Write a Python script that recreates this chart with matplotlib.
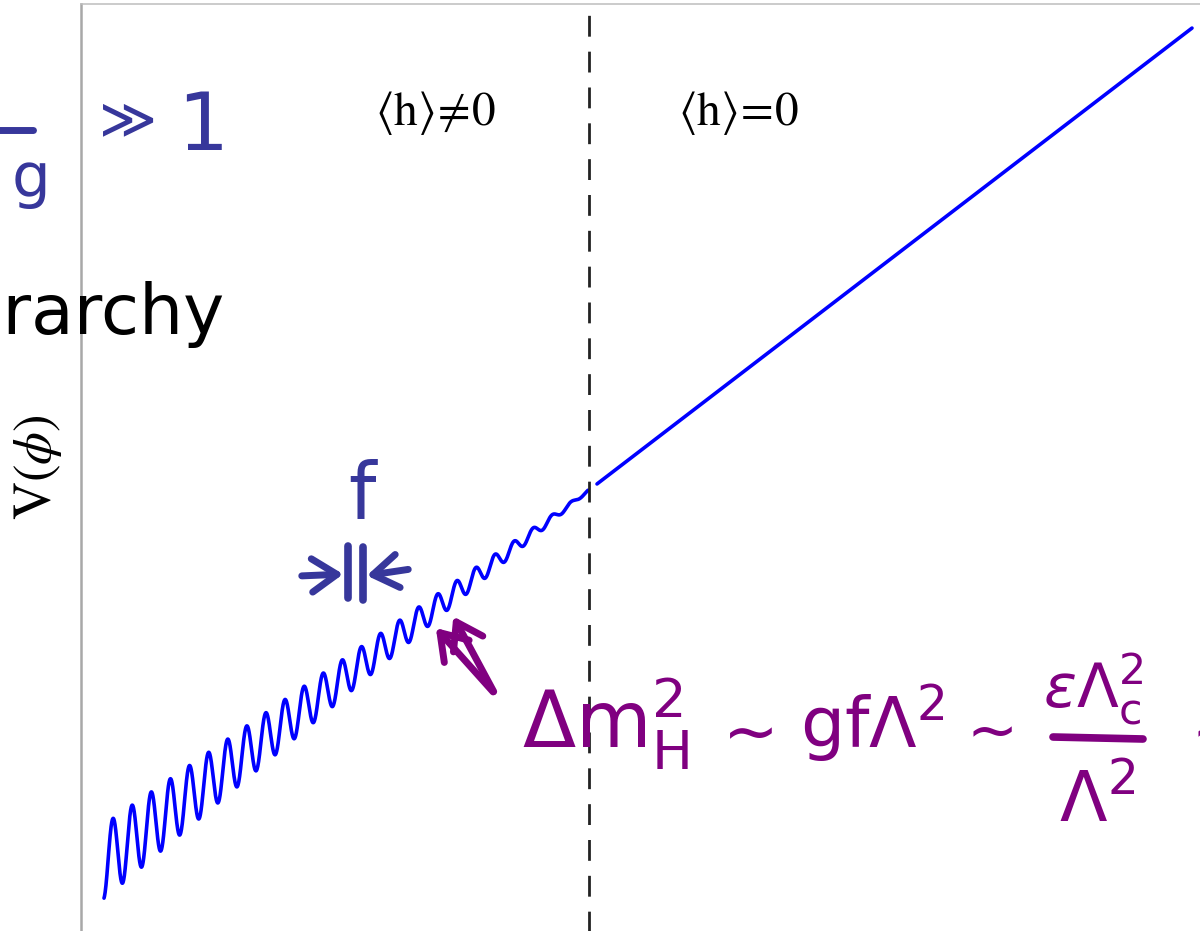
import numpy as np
import matplotlib.pyplot as plt
from matplotlib.lines import Line2D
from matplotlib.patches import FancyArrowPatch

plt.rcParams['mathtext.fontset'] = 'stix'

W, H = 1200, 931

# relaxion potential: linear slope plus a barrier wiggle whose height
# shrinks linearly towards the point where <h> switches off
phi_start, phi_c = 0.23, 5.07          # wiggly branch, <h> != 0
phi_free, phi_end = 5.16, 11.11        # straight branch, <h> = 0
v_free, slope = 5.07, 0.787            # V at phi_free and slope of the linear term
wiggle_amp, amp_ref, amp_zero = 0.37, 0.37, 5.19  # barrier height at amp_ref, vanishing at amp_zero
wiggle_period, wiggle_peak = 0.191, 0.32

phi_l = np.linspace(phi_start, phi_c, 3000)
trend = v_free + slope * (phi_l - phi_free)
envelope = wiggle_amp * (amp_zero - phi_l) / (amp_zero - amp_ref)
v_l = trend + envelope * np.cos(2 * np.pi * (phi_l - wiggle_peak) / wiggle_period)

phi_r = np.array([phi_free, phi_end])
v_r = v_free + slope * (phi_r - phi_free)

fig = plt.figure(figsize=(12, 9.31), dpi=100)
ax = fig.add_axes([81 / W, -0.05, 1.0, 1.05 - 4 / H])
ax.set_xlim(0, 12)
ax.set_ylim(0, 10)
ax.set_xticks([])
ax.set_yticks([])
ax.spines['right'].set_visible(False)
ax.spines['bottom'].set_visible(False)
ax.spines['left'].set_color('#a8a8a8')
ax.spines['left'].set_linewidth(1.8)
ax.spines['top'].set_color('#bdbdbd')
ax.spines['top'].set_linewidth(1.1)

ax.plot(phi_l, v_l, color='#0000ff', lw=2.6, solid_capstyle='round')
ax.plot(phi_r, v_r, color='#0000ff', lw=2.6, solid_capstyle='round')
ax.axvline(phi_c + 0.01, color='#222222', lw=2.0, dashes=(7.5, 5.4))

ax.text(3.54, 8.88, r'$\langle\mathrm{h}\rangle\!\neq\!0$', fontsize=34,
        ha='center', va='center')
ax.text(6.57, 8.88, r'$\langle\mathrm{h}\rangle\!=\!0$', fontsize=34,
        ha='center', va='center')
fig.text(38 / W, 1 - 467 / H, r'$\mathrm{V}(\phi)$', fontsize=38, rotation=90,
         ha='center', va='center')


def fp(x, y):
    return x / W, 1 - y / H


def stroke(xs, ys, color, lw=5.5):
    fx = [x / W for x in xs]
    fy = [1 - y / H for y in ys]
    fig.add_artist(Line2D(fx, fy, color=color, lw=lw, solid_capstyle='round',
                          transform=fig.transFigure))


def arrow(x0, y0, x1, y1, color, lw=5.0):
    fig.add_artist(FancyArrowPatch(
        fp(x0, y0), fp(x1, y1), transform=fig.transFigure,
        arrowstyle='->,head_length=0.9,head_width=0.6', color=color, lw=lw,
        capstyle='round', joinstyle='round', mutation_scale=20))


ink_blue = '#37379b'
ink_purple = '#800080'
hand = dict(math_fontfamily='dejavusans', family='DejaVu Sans')

# blue notes
stroke([-5, 33], [130, 130], ink_blue, lw=5)
fig.text(*fp(50, 196), 'g', color=ink_blue, fontsize=44, ha='right',
         va='baseline', **hand)
fig.text(*fp(128, 122), '≫', color=ink_blue, fontsize=40, ha='center',
         va='center', **hand)
fig.text(*fp(203, 150), '1', color=ink_blue, fontsize=58, ha='center',
         va='baseline', **hand)
fig.text(*fp(362, 518), 'f', color=ink_blue, fontsize=56, ha='center',
         va='baseline', **hand)
stroke([348, 348], [546, 598], ink_blue)
stroke([363, 363], [547, 600], ink_blue)
arrow(299, 576, 346, 574, ink_blue)
arrow(411, 569, 364, 576, ink_blue)

# black note
fig.text(*fp(224, 334), 'Hierarchy', color='black', fontsize=50, ha='right',
         va='baseline', **hand)

# purple notes
arrow(495, 694, 434, 626, ink_purple)
arrow(495, 694, 452, 614, ink_purple)
fig.text(*fp(522, 748), r'$\Delta \mathrm{m}^2_\mathrm{H}$', color=ink_purple,
         fontsize=56, ha='left', va='baseline', **hand)
fig.text(*fp(742, 733), r'$\sim$', color=ink_purple, fontsize=48,
         ha='center', va='center', **hand)
fig.text(*fp(800, 748), r'$\mathrm{gf}\Lambda^2$', color=ink_purple,
         fontsize=50, ha='left', va='baseline', **hand)
fig.text(*fp(984, 733), r'$\sim$', color=ink_purple, fontsize=44,
         ha='center', va='center', **hand)
fig.text(*fp(1093, 708), r'$\epsilon\Lambda^2_\mathrm{c}$', color=ink_purple,
         fontsize=44, ha='center', va='baseline', **hand)
stroke([1053, 1143], [737, 739], ink_purple)
fig.text(*fp(1097, 822), r'$\Lambda^2$', color=ink_purple, fontsize=50,
         ha='center', va='baseline', **hand)
fig.text(*fp(1180, 733), r'$\sim$', color=ink_purple, fontsize=44,
         ha='left', va='center', **hand)

fig.savefig('out.png', dpi=100)
